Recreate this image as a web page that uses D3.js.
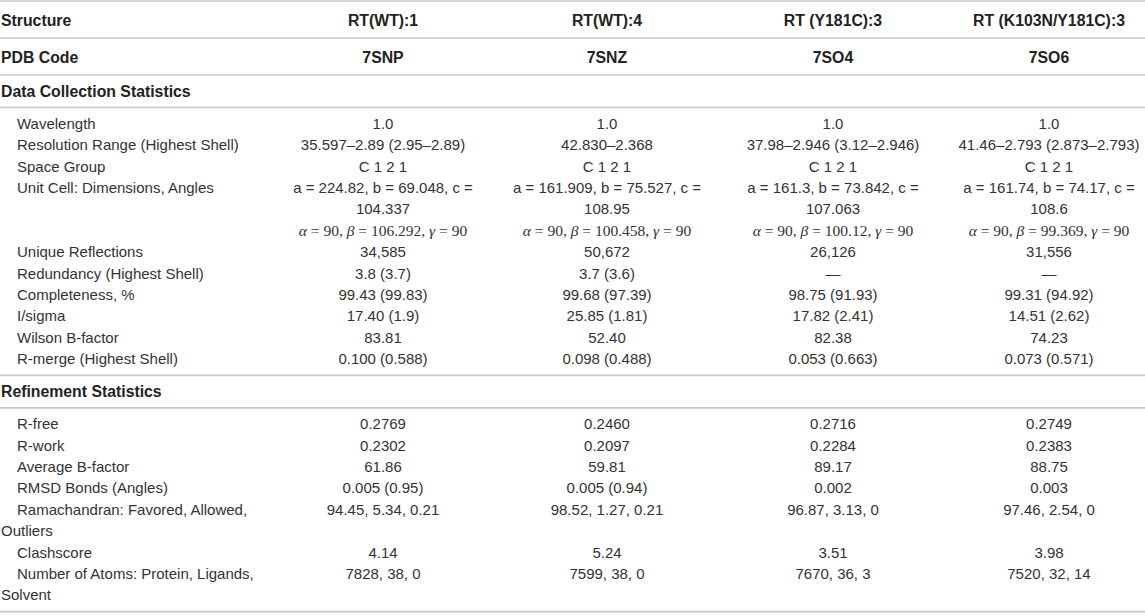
<!DOCTYPE html>
<html>
<head>
<meta charset="utf-8">
<script src="https://cdn.jsdelivr.net/npm/d3@7"></script>
<style>
  body { margin: 0; background: #fff; }
  svg { display: block; font-family: "Liberation Sans", Arial, Helvetica, sans-serif; }
</style>
</head>
<body>
<svg id="chart" width="1145" height="615"></svg>
<script>
// table content
const structures = ["RT(WT):1", "RT(WT):4", "RT (Y181C):3", "RT (K103N/Y181C):3"];
const pdbCodes   = ["7SNP", "7SNZ", "7SO4", "7SO6"];

const collectionTitle  = "Data Collection Statistics";
const collectionLabels = ["Wavelength", "Resolution Range (Highest Shell)", "Space Group",
  "Unit Cell: Dimensions, Angles", "Unique Reflections", "Redundancy (Highest Shell)",
  "Completeness, %", "I/sigma", "Wilson B-factor", "R-merge (Highest Shell)"];
const wavelength  = ["1.0", "1.0", "1.0", "1.0"];
const resolution  = ["35.597–2.89 (2.95–2.89)", "42.830–2.368", "37.98–2.946 (3.12–2.946)", "41.46–2.793 (2.873–2.793)"];
const spaceGroup  = ["C 1 2 1", "C 1 2 1", "C 1 2 1", "C 1 2 1"];
const cellDims    = ["a = 224.82, b = 69.048, c = 104.337", "a = 161.909, b = 75.527, c = 108.95",
                     "a = 161.3, b = 73.842, c = 107.063", "a = 161.74, b = 74.17, c = 108.6"];
const cellAngles  = ["α = 90, β = 106.292, γ = 90", "α = 90, β = 100.458, γ = 90",
                     "α = 90, β = 100.12, γ = 90", "α = 90, β = 99.369, γ = 90"];
const uniqueRefl  = ["34,585", "50,672", "26,126", "31,556"];
const redundancy  = ["3.8 (3.7)", "3.7 (3.6)", "—", "—"];
const completeness = ["99.43 (99.83)", "99.68 (97.39)", "98.75 (91.93)", "99.31 (94.92)"];
const iSigma      = ["17.40 (1.9)", "25.85 (1.81)", "17.82 (2.41)", "14.51 (2.62)"];
const wilsonB     = ["83.81", "52.40", "82.38", "74.23"];
const rMerge      = ["0.100 (0.588)", "0.098 (0.488)", "0.053 (0.663)", "0.073 (0.571)"];

const refinementTitle  = "Refinement Statistics";
const refinementLabels = ["R-free", "R-work", "Average B-factor", "RMSD Bonds (Angles)",
  "Ramachandran: Favored, Allowed, Outliers", "Clashscore", "Number of Atoms: Protein, Ligands, Solvent"];
const rFree       = ["0.2769", "0.2460", "0.2716", "0.2749"];
const rWork       = ["0.2302", "0.2097", "0.2284", "0.2383"];
const avgB        = ["61.86", "59.81", "89.17", "88.75"];
const rmsd        = ["0.005 (0.95)", "0.005 (0.94)", "0.002", "0.003"];
const ramachandran = ["94.45, 5.34, 0.21", "98.52, 1.27, 0.21", "96.87, 3.13, 0", "97.46, 2.54, 0"];
const clashscore  = ["4.14", "5.24", "3.51", "3.98"];
const atomCounts  = ["7828, 38, 0", "7599, 38, 0", "7670, 36, 3", "7520, 32, 14"];

// each row: label + per-structure list of paragraphs
const collectionRows = [
  [wavelength], [resolution], [spaceGroup], [cellDims, cellAngles], [uniqueRefl],
  [redundancy], [completeness], [iSigma], [wilsonB], [rMerge]
].map((parts, i) => ({label: collectionLabels[i], cells: structures.map((s, j) => parts.map(p => p[j]))}));

const refinementRows = [
  [rFree], [rWork], [avgB], [rmsd], [ramachandran], [clashscore], [atomCounts]
].map((parts, i) => ({label: refinementLabels[i], cells: structures.map((s, j) => parts.map(p => p[j]))}));

// layout
const width = 1145;
const fontSize = 15, boldSize = 15.8, mathSize = 15.5, lineH = 21.4;
const labelIndent = 17, labelMax = 275, cellMax = 13.3 * fontSize;
const ruleColor = "#c9c9c9", textColor = "#333", boldColor = "#222";
const sansFont = '"Liberation Sans", Arial, Helvetica, sans-serif';
const serifFont = '"Liberation Serif", "Times New Roman", serif';

const colX = d3.scaleOrdinal().domain(structures).range([383, 607, 833, 1049]);

const svg = d3.select("#chart");
const g = svg.append("g");

const probe = svg.append("text").attr("visibility", "hidden")
  .style("font-size", fontSize + "px");
function textWidth(s, family) {
  probe.style("font-family", family || sansFont).text(s);
  return probe.node().getComputedTextLength();
}

function wrapText(s, firstMax, restMax, family) {
  const words = s.split(" ");
  const lines = [];
  let cur = "";
  words.forEach(w => {
    const next = cur ? cur + " " + w : w;
    const max = lines.length ? restMax : firstMax;
    if (cur && textWidth(next, family) > max) { lines.push(cur); cur = w; }
    else cur = next;
  });
  if (cur) lines.push(cur);
  return lines;
}

function rule(y) {
  g.append("line").attr("x1", 0).attr("x2", width).attr("y1", y).attr("y2", y)
    .attr("stroke", ruleColor).attr("stroke-width", 1.6);
}

function boldText(x, y, s, anchor) {
  g.append("text").attr("x", x).attr("y", y).attr("dy", "0.35em")
    .attr("text-anchor", anchor).attr("fill", boldColor)
    .style("font-weight", "bold").style("font-size", boldSize + "px").text(s);
}

function mathText(x, y, s) {
  const t = g.append("text").attr("x", x).attr("y", y).attr("dy", "0.35em")
    .attr("text-anchor", "middle").attr("fill", textColor)
    .style("font-family", serifFont).style("font-size", mathSize + "px");
  s.split(/([αβγ])/).filter(p => p).forEach(p => {
    t.append("tspan").style("font-style", /[αβγ]/.test(p) ? "italic" : "normal").text(p);
  });
}

let y = 1;
rule(y);

// header rows
[["Structure", structures], ["PDB Code", pdbCodes]].forEach(([lab, vals]) => {
  boldText(1, y + 19, lab, "start");
  vals.forEach((v, i) => boldText(colX(structures[i]), y + 19, v, "middle"));
  y += 37;
  rule(y);
});

function section(title, rows) {
  boldText(1, y + 16.5, title, "start");
  y += 32.5;
  rule(y);
  let cy = y + 16;
  rows.forEach(row => {
    const labLines = wrapText(row.label, labelMax - labelIndent, labelMax);
    const cellLines = row.cells.map(paras => paras.flatMap(p =>
      /[αβγ]/.test(p) ? [p] : wrapText(p, cellMax, cellMax)));
    labLines.forEach((l, k) => {
      g.append("text").attr("x", k ? 1 : labelIndent).attr("y", cy + k * lineH).attr("dy", "0.35em")
        .attr("fill", textColor).style("font-size", fontSize + "px").text(l);
    });
    cellLines.forEach((lines, i) => {
      lines.forEach((l, k) => {
        const yy = cy + k * lineH;
        if (/[αβγ]/.test(l)) mathText(colX(structures[i]), yy, l);
        else g.append("text").attr("x", colX(structures[i])).attr("y", yy).attr("dy", "0.35em")
          .attr("text-anchor", "middle").attr("fill", textColor)
          .style("font-size", fontSize + "px").text(l);
      });
    });
    const n = Math.max(labLines.length, d3.max(cellLines, l => l.length));
    cy += n * lineH;
  });
  y = cy - lineH + 16.5;
  rule(y);
}

section(collectionTitle, collectionRows);
section(refinementTitle, refinementRows);
probe.remove();
</script>
</body>
</html>
